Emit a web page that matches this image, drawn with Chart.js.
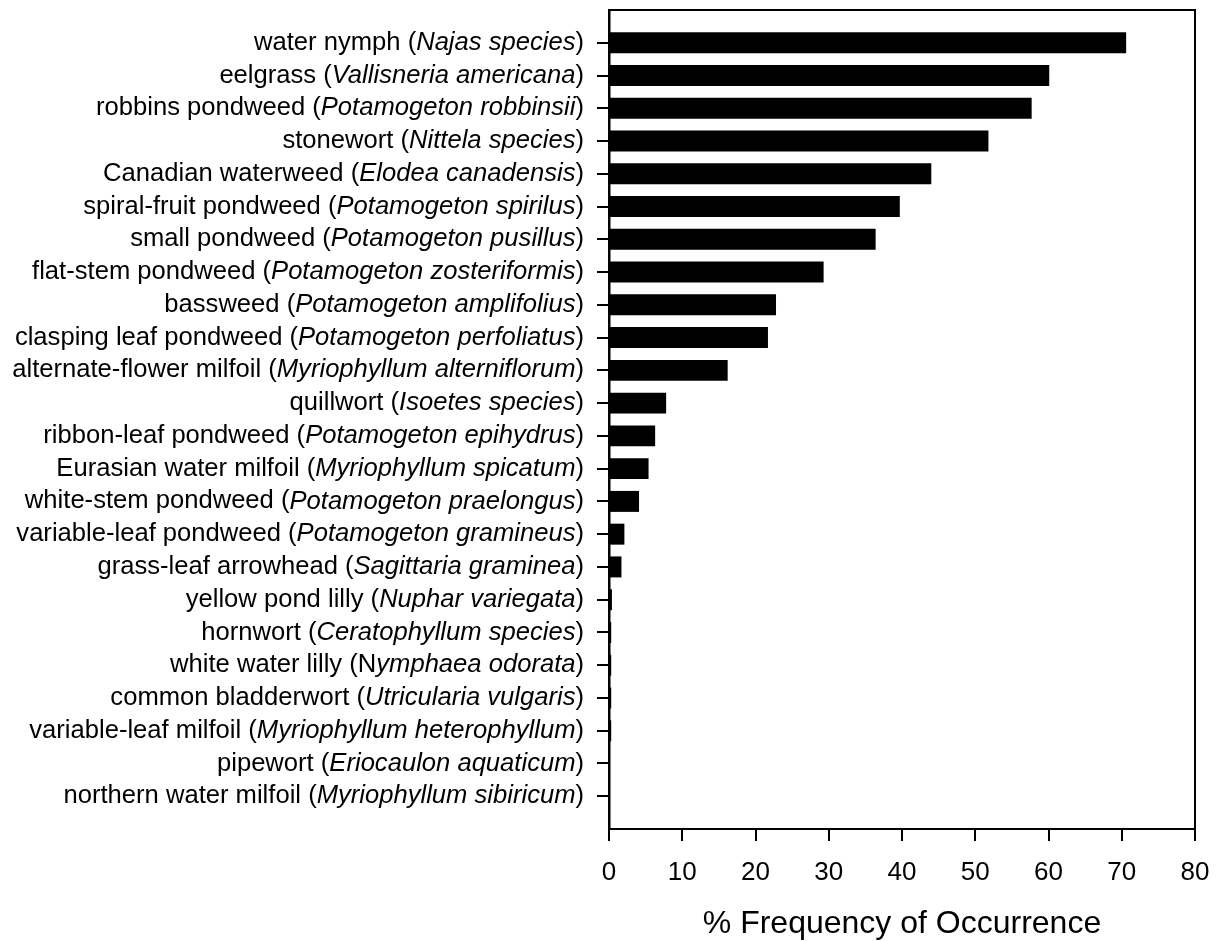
<!DOCTYPE html>
<html>
<head>
<meta charset="utf-8">
<script src="https://cdn.jsdelivr.net/npm/chart.js@4.4.0/dist/chart.umd.min.js"></script>
<style>
    html, body { margin: 0; padding: 0; background: #ffffff; }
    #caixa { width: 1220px; height: 941px; }
</style>
</head>
<body>
<div id="caixa"><canvas id="graficoFrequencia" width="1220" height="941"></canvas></div>
<script>
// ==========================================
// DADOS
// trechos entre * são desenhados em itálico
// ==========================================
const especies = [
    "water nymph (*Najas species*)",
    "eelgrass (*Vallisneria americana*)",
    "robbins pondweed (*Potamogeton robbinsii*)",
    "stonewort (*Nittela species*)",
    "Canadian waterweed (*Elodea canadensis*)",
    "spiral-fruit pondweed (*Potamogeton spirilus*)",
    "small pondweed (*Potamogeton pusillus*)",
    "flat-stem pondweed (*Potamogeton zosteriformis*)",
    "bassweed (*Potamogeton amplifolius*)",
    "clasping leaf pondweed (*Potamogeton perfoliatus*)",
    "alternate-flower milfoil (*Myriophyllum alterniflorum*)",
    "quillwort (*Isoetes species*)",
    "ribbon-leaf pondweed (*Potamogeton epihydrus*)",
    "Eurasian water milfoil (*Myriophyllum spicatum*)",
    "white-stem pondweed (*Potamogeton praelongus*)",
    "variable-leaf pondweed (*Potamogeton gramineus*)",
    "grass-leaf arrowhead (*Sagittaria graminea*)",
    "yellow pond lilly (*Nuphar variegata*)",
    "hornwort (*Ceratophyllum species*)",
    "white water lilly (N*ymphaea odorata*)",
    "common bladderwort (*Utricularia vulgaris*)",
    "variable-leaf milfoil (*Myriophyllum heterophyllum*)",
    "pipewort (*Eriocaulon aquaticum*)",
    "northern water milfoil (*Myriophyllum sibiricum*)"
];

const frequencia = [
    70.6, 60.1, 57.7, 51.8, 44.0, 39.7, 36.4, 29.3, 22.8, 21.7, 16.2, 7.8,
    6.3, 5.4, 4.1, 2.1, 1.7, 0.4, 0.3, 0.3, 0.3, 0.3, 0, 0
];

const eixoXMin = 0;
const eixoXMax = 80;
const eixoXPasso = 10;
const tituloEixoX = "% Frequency of Occurrence";

// ==========================================
// CONFIGURAÇÃO
// ==========================================
const FONTE = '"Liberation Sans", Arial, Helvetica, sans-serif';
const TAMANHO_ROTULO = 25.6;
const ROTULO_DIREITA = 584;

// uma categoria vazia em cada ponta, como no original
const categorias = [""].concat(especies).concat([""]);
const valores = [null].concat(frequencia).concat([null]);

// desenha os nomes (com itálico) e a moldura
const rotulosPlugin = {
    id: "rotulos",
    afterDraw(chart) {
        const ctx = chart.ctx;
        const area = chart.chartArea;
        const escalaY = chart.scales.y;

        ctx.save();
        ctx.strokeStyle = "#000";
        ctx.lineWidth = 2;
        ctx.beginPath();
        ctx.moveTo(area.left, area.top);
        ctx.lineTo(area.right, area.top);
        ctx.lineTo(area.right, area.bottom);
        ctx.stroke();

        ctx.fillStyle = "#000";
        ctx.textBaseline = "middle";
        ctx.textAlign = "left";

        especies.forEach(function (nome, i) {
            const partes = nome.split("*");
            const py = escalaY.getPixelForValue(i + 1);
            let largura = 0;
            partes.forEach(function (p, k) {
                ctx.font = (k % 2 ? "italic " : "") + TAMANHO_ROTULO + "px " + FONTE;
                largura += ctx.measureText(p).width;
            });
            let px = ROTULO_DIREITA - largura;
            partes.forEach(function (p, k) {
                ctx.font = (k % 2 ? "italic " : "") + TAMANHO_ROTULO + "px " + FONTE;
                ctx.fillText(p, px, py);
                px += ctx.measureText(p).width;
            });
        });
        ctx.restore();
    }
};

new Chart(document.getElementById("graficoFrequencia"), {
    type: "bar",
    data: {
        labels: categorias,
        datasets: [{
            data: valores,
            backgroundColor: "#000000",
            borderWidth: 0,
            categoryPercentage: 1,
            barPercentage: 0.64
        }]
    },
    plugins: [rotulosPlugin],
    options: {
        indexAxis: "y",
        responsive: false,
        animation: false,
        devicePixelRatio: 1,
        layout: { padding: { top: 10, right: 25, left: 0, bottom: 0 } },
        plugins: {
            legend: { display: false },
            tooltip: { enabled: false }
        },
        scales: {
            y: {
                type: "category",
                offset: false,
                ticks: { display: false },
                grid: {
                    offset: false,
                    drawOnChartArea: false,
                    drawTicks: true,
                    tickLength: 12,
                    lineWidth: 2,
                    color: function (context) {
                        const i = context.index;
                        return (i === 0 || i === categorias.length - 1) ? "rgba(0,0,0,0)" : "#000";
                    }
                },
                border: { display: true, color: "#000", width: 2.5 },
                afterFit: function (scale) { scale.width = 609; }
            },
            x: {
                type: "linear",
                position: "bottom",
                min: eixoXMin,
                max: eixoXMax,
                ticks: {
                    stepSize: eixoXPasso,
                    color: "#000",
                    padding: 16,
                    font: { family: FONTE, size: 26 }
                },
                grid: {
                    drawOnChartArea: false,
                    drawTicks: true,
                    tickLength: 12,
                    lineWidth: 2,
                    color: "#000"
                },
                border: { display: true, color: "#000", width: 2 },
                title: {
                    display: true,
                    text: tituloEixoX,
                    color: "#000",
                    padding: { top: 0, bottom: 0 },
                    font: { family: FONTE, size: 32, lineHeight: 1.03 }
                },
                afterFit: function (scale) {
                    scale.height = 112;
                    scale.paddingLeft = 0;
                    scale.paddingRight = 0;
                }
            }
        }
    }
});
</script>
</body>
</html>
